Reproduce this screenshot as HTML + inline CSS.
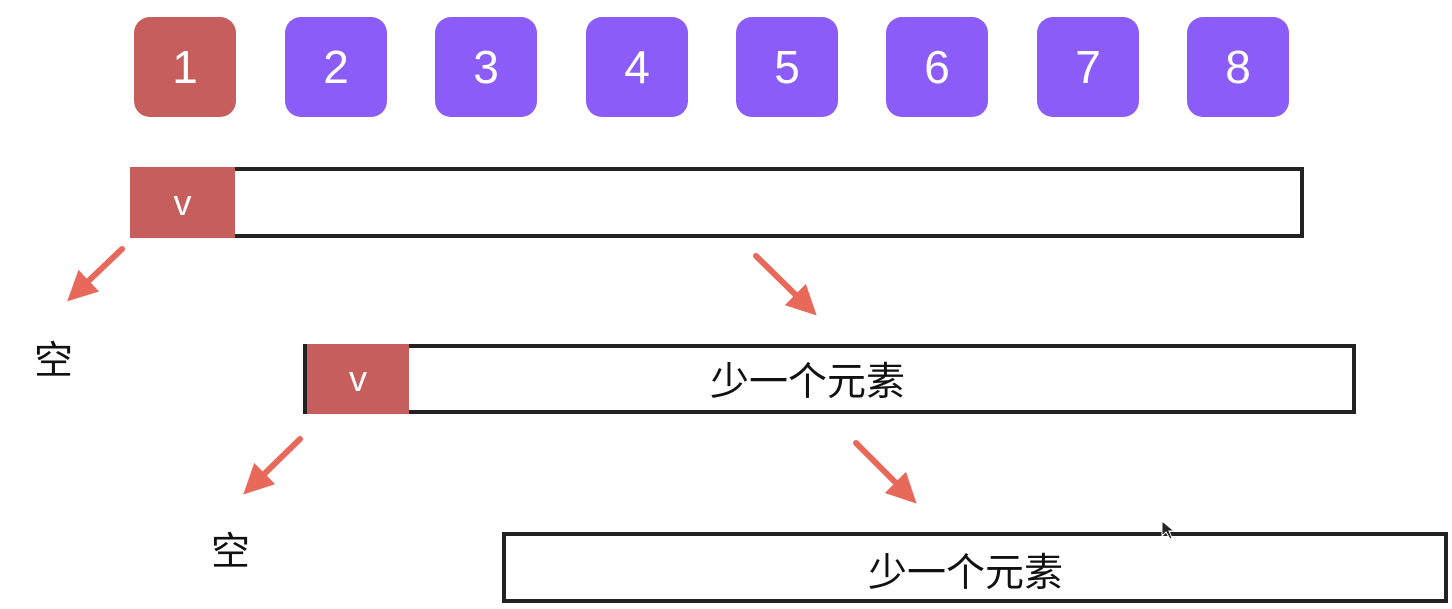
<!DOCTYPE html>
<html><head><meta charset="utf-8">
<style>
body{margin:0;width:1452px;height:609px;background:#fff;position:relative;overflow:hidden;font-family:"Liberation Sans","Noto Sans CJK SC",sans-serif}
.n{position:absolute;top:17px;width:102px;height:100px;border-radius:16px;background:#8b5cf8;color:#fff;font-size:46px;display:flex;align-items:center;justify-content:center}
.bar{position:absolute;border:4px solid #222;box-sizing:border-box;background:#fff}
.v{position:absolute;top:-4px;bottom:-4px;left:-4px;background:#c55e5c;color:#fff;font-size:36px;display:flex;align-items:center;justify-content:center}
.t{position:absolute;font-size:39px;line-height:44px;color:#111}
</style></head><body>
<div class="n" style="left:134px;background:#c55e5c">1</div>
<div class="n" style="left:285px">2</div>
<div class="n" style="left:435px">3</div>
<div class="n" style="left:586px">4</div>
<div class="n" style="left:736px">5</div>
<div class="n" style="left:886px">6</div>
<div class="n" style="left:1037px">7</div>
<div class="n" style="left:1187px">8</div>

<div class="bar" style="left:130px;top:167px;width:1174px;height:71px;border-left-width:2px">
 <div class="v" style="left:-2px;width:105px">v</div>
</div>
<div class="bar" style="left:303px;top:344px;width:1053px;height:70px">
 <div class="v" style="left:0;width:102px">v</div>
 <div class="t" style="left:403px;top:13px">少一个元素</div>
</div>
<div class="bar" style="left:502px;top:532px;width:946px;height:71px">
 <div class="t" style="left:362px;top:16px">少一个元素</div>
</div>
<div class="t" style="left:34px;top:340px">空</div>
<div class="t" style="left:211px;top:531px">空</div>

<svg width="1452" height="609" style="position:absolute;left:0;top:0">
<defs><marker id="h" markerWidth="5" markerHeight="5" refX="2.5" refY="2.5" orient="auto"><path d="M0,0 L5,2.5 L0,5 Z" fill="#e8685a"/></marker></defs>
<g stroke="#e8685a" stroke-width="6" stroke-linecap="round">
<line x1="122" y1="249" x2="78" y2="291" marker-end="url(#h)"/>
<line x1="756" y1="256" x2="806" y2="305" marker-end="url(#h)"/>
<line x1="300" y1="439" x2="254" y2="484" marker-end="url(#h)"/>
<line x1="856" y1="443" x2="906" y2="493" marker-end="url(#h)"/>
</g>
<path d="M1162,521 L1162,536 L1166,532 L1170,539 L1172,538 L1169,531 L1174,531 Z" fill="#222" stroke="#fff" stroke-width="1"/>
</svg>
</body></html>
